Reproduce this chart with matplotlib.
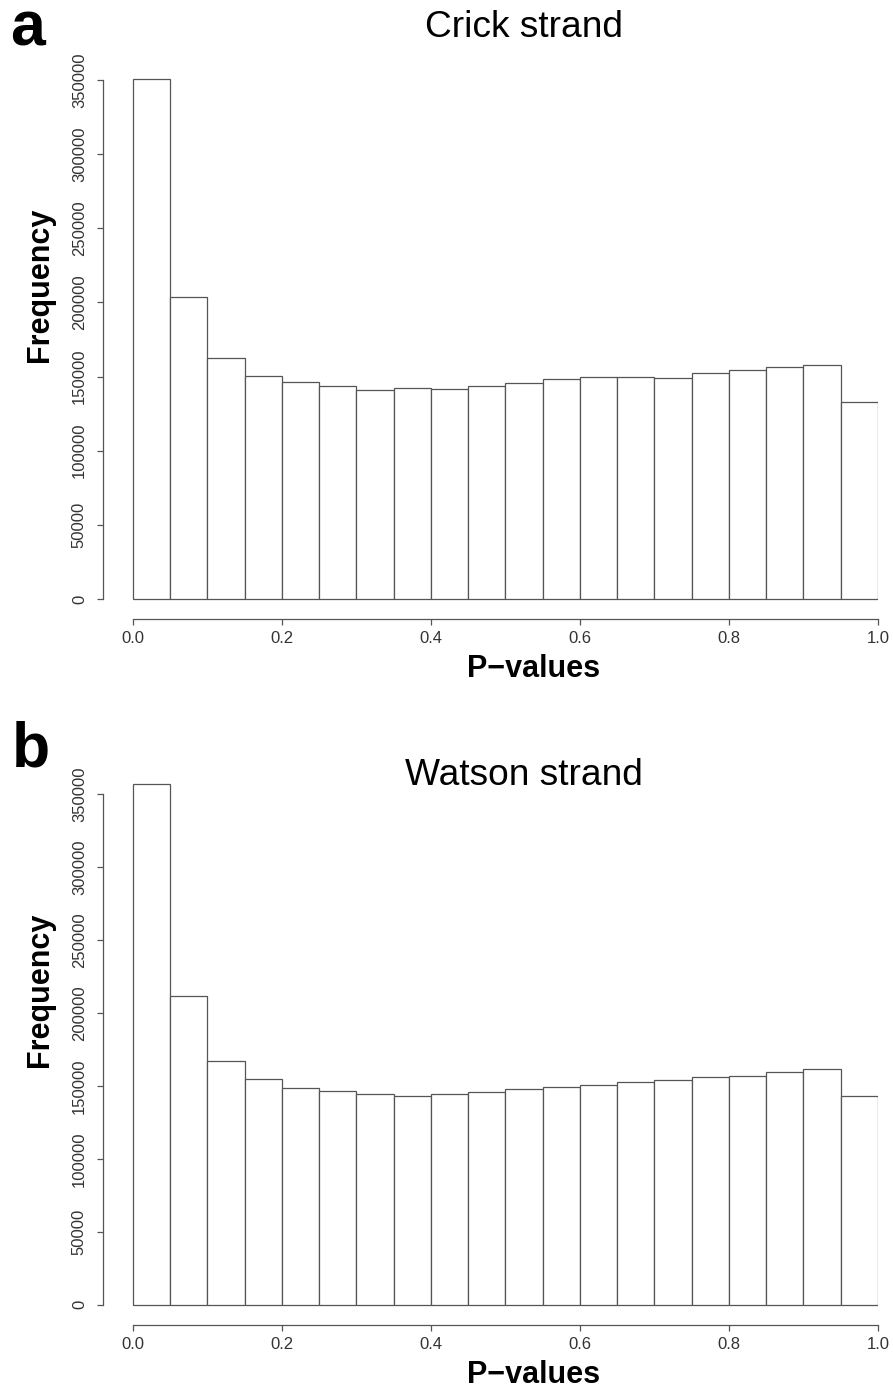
import numpy as np
import matplotlib
matplotlib.use('Agg')
import matplotlib.pyplot as plt

# Histogram bins (left edges) and frequencies
bin_left = [0.00, 0.05, 0.10, 0.15, 0.20, 0.25, 0.30, 0.35, 0.40, 0.45,
            0.50, 0.55, 0.60, 0.65, 0.70, 0.75, 0.80, 0.85, 0.90, 0.95]
bin_width = 0.05
crick_counts = [351000, 203500, 162300, 150600, 146100, 143600, 141200, 142100, 141600, 143600,
                145900, 148400, 149900, 149900, 149200, 152400, 154200, 156700, 158000, 132600]
watson_counts = [356900, 211400, 166900, 154400, 148400, 146200, 144300, 142700, 144300, 145700,
                 147500, 149300, 150900, 152500, 154100, 156200, 156800, 159800, 161200, 142900]
titles = ['Crick strand', 'Watson strand']
panel_tags = ['a', 'b']
y_ticks = [0, 50000, 100000, 150000, 200000, 250000, 300000, 350000]
x_ticks = [0.0, 0.2, 0.4, 0.6, 0.8, 1.0]

plt.rcParams['font.family'] = ['Liberation Sans', 'DejaVu Sans']

W, H = 893, 1396
fig = plt.figure(figsize=(W / 100, H / 100), dpi=100)


def fx(x):
    return x / W


def fy(y):
    return 1 - y / H


# pixel geometry of each panel: (axes top, axes bottom, y of 0, y of 350000)
panels = [(60, 619.3, 599.0, 80.0), (760, 1325.3, 1304.7, 794.0)]
counts_list = [crick_counts, watson_counts]
gray = '#555555'

for i, (top, bot, y0, y350) in enumerate(panels):
    per_px = 350000 / (y0 - y350)
    ylo = -(bot - y0) * per_px
    yhi = (y0 - top) * per_px
    ax = fig.add_axes([fx(103), fy(bot), fx(878) - fx(103), (bot - top) / H])
    ax.bar(bin_left, counts_list[i], width=bin_width, align='edge',
           facecolor='white', edgecolor=gray, linewidth=0.9)
    ax.set_xlim(-0.04, 1.0)
    ax.set_ylim(ylo, yhi)
    ax.spines['top'].set_visible(False)
    ax.spines['right'].set_visible(False)
    ax.spines['left'].set_bounds(0, 350000)
    ax.spines['bottom'].set_bounds(0, 1)
    for s in ['left', 'bottom']:
        ax.spines[s].set_color(gray)
        ax.spines[s].set_linewidth(0.9)
    ax.set_yticks(y_ticks)
    ax.set_yticklabels([str(v) for v in y_ticks], rotation=90, va='center')
    ax.set_xticks(x_ticks)
    ax.set_xticklabels(['%.1f' % v for v in x_ticks])
    ax.tick_params(axis='both', colors=gray, labelcolor='#333333', labelsize=12,
                   length=4.6, width=0.9)
    ax.tick_params(axis='y', pad=7)
    ax.tick_params(axis='x', pad=4)

    off = top if i == 0 else top - 60
    # titles / labels
    fig.text(fx(524), fy([37, 785][i]), titles[i], fontsize=26.7,
             ha='center', va='baseline')
    fig.text(fx([28, 31.5][i]), fy([45, 767][i]), panel_tags[i], fontsize=45,
             fontweight='bold', ha='center', va='baseline')
    fig.text(fx(534), fy(bot + 57.7), 'P\u2212values', fontsize=22,
             fontweight='bold', ha='center', va='baseline')
    fig.text(fx(40), fy([284.5, 990][i]), 'Frequency', fontsize=22,
             fontweight='bold', rotation=90, ha='center', va='center')

plt.savefig('out.png', dpi=100)
plt.close()
